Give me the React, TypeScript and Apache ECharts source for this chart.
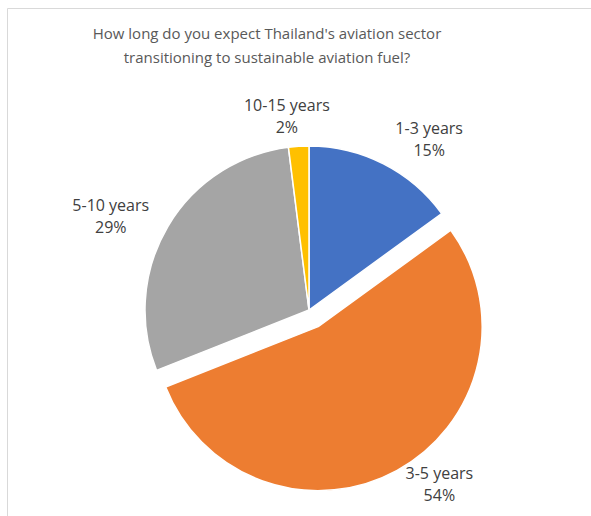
import { useEffect, useRef } from 'react';
import * as echarts from 'echarts';

const categories = ['1-3 years', '3-5 years', '5-10 years', '10-15 years'];
const values = [15, 54, 29, 2];
const colors = ['#4472C4', '#ED7D31', '#A5A5A5', '#FFC000'];
const explodedIndex = 1;
const titleLines = [
  "How long do you expect Thailand's aviation sector",
  'transitioning to sustainable aviation fuel?',
];

const CX = 309;
const CY = 310;
const RADIUS = 164;
const OFFSET = 19;
const LABEL_R = 179;

export default function App() {
  const ref = useRef<HTMLDivElement>(null);
  useEffect(() => {
    const chart = echarts.init(ref.current!, null, { renderer: 'svg' });
    const total = values.reduce((a, b) => a + b, 0);
    const mids: number[] = [];
    let acc = 0;
    values.forEach((v) => {
      mids.push(((acc + v / 2) / total) * 2 * Math.PI);
      acc += v;
    });
    chart.setOption({
      animation: false,
      graphic: [
        {
          type: 'rect',
          silent: true,
          shape: { x: 7.5, y: 8.5, width: 700, height: 700 },
          style: { fill: 'none', stroke: '#D9D9D9', lineWidth: 1 },
        },
        {
          type: 'text',
          x: 267,
          y: 21,
          style: {
            text: titleLines.join('\n'),
            align: 'center',
            verticalAlign: 'top',
            fontFamily: 'Open Sans',
            fontSize: 15,
            lineHeight: 24,
            fill: '#595959',
          },
        },
      ],
      series: [
        {
          type: 'pie',
          center: [CX, CY],
          radius: RADIUS,
          startAngle: 90,
          clockwise: true,
          selectedMode: 'single',
          selectedOffset: OFFSET,
          avoidLabelOverlap: false,
          emphasis: { disabled: true },
          select: { itemStyle: { borderColor: '#ffffff', borderWidth: 1.5 } },
          itemStyle: { borderColor: '#ffffff', borderWidth: 1.5 },
          label: {
            show: true,
            position: 'outside',
            formatter: (p: any) => `{a|${p.name}}\n{a|${Math.round(p.percent)}%}`,
            rich: {
              a: {
                align: 'center',
                fontFamily: 'Open Sans',
                fontSize: 16,
                lineHeight: 22,
                color: '#404040',
              },
            },
          },
          labelLine: { show: false },
          labelLayout: (params: any) => {
            const i = params.dataIndex;
            const th = mids[i];
            const ux = Math.sin(th);
            const uy = -Math.cos(th);
            const off = i === explodedIndex ? OFFSET : 0;
            const cx = CX + ux * off;
            const cy = CY + uy * off;
            const w = params.labelRect.width;
            const h = params.labelRect.height;
            const kx = Math.max(-1, Math.min(1, 3.5 * ux)) * 1.15;
            return {
              x: cx + LABEL_R * ux + (w / 2) * kx,
              y: cy + (LABEL_R - 4) * uy + (h / 2) * uy * Math.abs(uy),
              align: 'center',
              verticalAlign: 'middle',
            };
          },
          data: categories.map((name, i) => ({
            name,
            value: values[i],
            selected: i === explodedIndex,
            itemStyle: { color: colors[i] },
          })),
        },
      ],
    });
    return () => chart.dispose();
  }, []);
  return (
    <div
      ref={ref}
      style={{ position: 'absolute', left: 0, top: 0, width: 591, height: 516, background: '#fff' }}
    />
  );
}
